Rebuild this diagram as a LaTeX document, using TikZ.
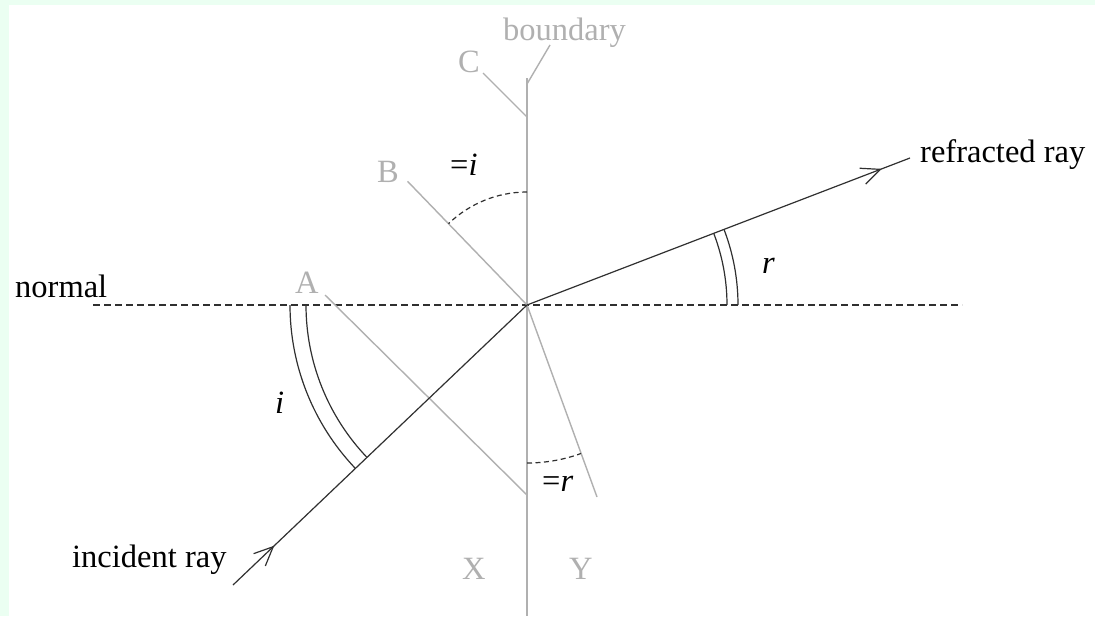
\documentclass[tikz,border=0pt]{standalone}
\usepackage{fontspec}
\setmainfont{Liberation Serif}
\usetikzlibrary{arrows.meta,decorations.markings,calc}
\definecolor{bggreen}{RGB}{235,255,242}
\definecolor{lightgrey}{RGB}{176,176,176}
\definecolor{inkgrey}{RGB}{48,48,48}
\newcommand\lblfont{\fontsize{32.5}{39}\selectfont}
\tikzset{
  lbl/.style={font=\lblfont, inner sep=0pt, anchor=base west, text=black},
  glbl/.style={lbl, text=lightgrey},
  greyline/.style={draw=lightgrey, line width=1.4pt},
  inkline/.style={draw=inkgrey, line width=1.2pt},
  dashline/.style={draw=inkgrey, line width=1.4pt, dash pattern=on 7pt off 4pt},
  arcdash/.style={draw=inkgrey, line width=1.2pt, dash pattern=on 5pt off 3.5pt},
  barb/.style={postaction={decorate}, decoration={markings,
      mark=at position #1 with {\arrow{Straight Barb[length=19pt,width=17pt,line width=1.2pt]}}}}
}
\begin{document}
\begin{tikzpicture}[x=1pt,y=-1pt]
\fill[bggreen] (0,0) rectangle (1095,616);
\fill[white] (9,5) rectangle (1095,616);
\useasboundingbox (0,0) rectangle (1095,616);

% key points
\coordinate (O) at (527,305);
\coordinate (btop) at (527,78);
\coordinate (bbot) at (527,616);
\coordinate (cjoin) at (527,117);
\coordinate (cend) at (483,73);
\coordinate (leadtop) at (550,45);
\coordinate (leadbot) at (527,84);
\coordinate (bend) at ($(O)+(-134:172)$);
\coordinate (atop) at (325,295);
\coordinate (abot) at (527,495);
\coordinate (yend) at (597,497);
\coordinate (incend) at (233,585);
\coordinate (refend) at (910,158);
\coordinate (nleft) at (93,305);
\coordinate (nright) at (962,305);

% normal
\draw[dashline] (nleft) -- (nright);

% grey construction lines
\draw[greyline] (btop) -- (bbot);
\draw[greyline] (cjoin) -- (cend);
\draw[greyline] (leadbot) -- (leadtop);
\draw[greyline] (O) -- (bend);
\draw[greyline] (atop) -- (abot);
\draw[greyline] (O) -- (yend);

% rays
\draw[inkline, barb=57pt] (incend) -- (O);
\draw[inkline, barb=380pt] (O) -- (refend);

% angle arcs
\draw[inkline] ($(O)+(0:200)$) arc[start angle=0, end angle=-21, radius=200];
\draw[inkline] ($(O)+(0:211)$) arc[start angle=0, end angle=-21, radius=211];
\draw[inkline] ($(O)+(180:221)$) arc[start angle=180, end angle=136.4, radius=221];
\draw[inkline] ($(O)+(180:237)$) arc[start angle=180, end angle=136.4, radius=237];
\draw[arcdash] ($(O)+(-90:113)$) arc[start angle=-90, end angle=-134, radius=113];
\draw[arcdash] ($(O)+(90:158)$) arc[start angle=90, end angle=70, radius=158];

% labels
\node[lbl] (normal) at (15,297) {normal};
\node[lbl] (refracted) at (920,162) {refracted ray};
\node[lbl] (incident) at (72,567) {incident ray};
\node[glbl] (boundary) at (503,40) {boundary};
\node[glbl] (C) at (458,72) {C};
\node[glbl] (B) at (377,182) {B};
\node[glbl] (A) at (295,293) {A};
\node[glbl] (X) at (462,579) {X};
\node[glbl] (Y) at (569,579) {Y};
\node[lbl] (eqi) at (450,175) {=\textit{i}};
\node[lbl] (eqr) at (542,491) {=\textit{r}};
\node[lbl] (ilbl) at (275,413) {\textit{i}};
\node[lbl] (rlbl) at (762,273) {\textit{r}};
\end{tikzpicture}
\end{document}
